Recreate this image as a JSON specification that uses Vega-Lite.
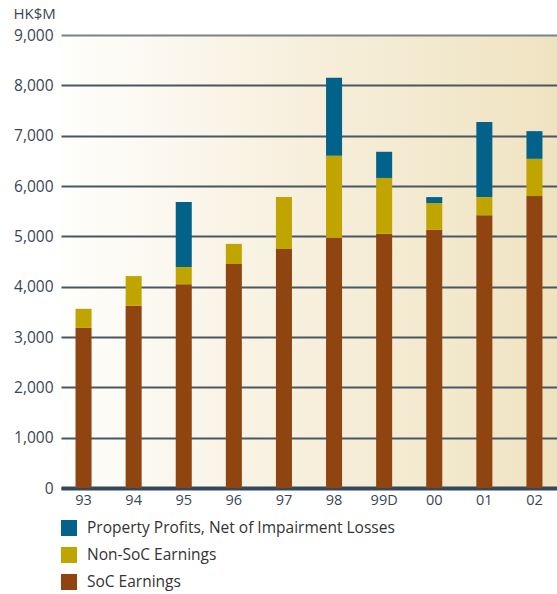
{
  "$schema": "https://vega.github.io/schema/vega-lite/v6.json",
  "width": 496,
  "height": 453,
  "autosize": {"type": "none"},
  "padding": {"left": 61, "top": 35, "right": 0, "bottom": 106},
  "background": "white",
  "view": {
    "stroke": null,
    "fill": {
      "gradient": "linear",
      "x1": 0, "y1": 0, "x2": 1, "y2": 0,
      "stops": [
        {"offset": 0, "color": "#fefefc"},
        {"offset": 0.5, "color": "#f7efdc"},
        {"offset": 1, "color": "#efe3c1"}
      ]
    }
  },
  "config": {
    "font": "Open Sans",
    "axis": {"labelFont": "Open Sans", "titleFont": "Open Sans"},
    "legend": {"labelFont": "Open Sans"}
  },
  "data": {
    "values": [
      {"year": "93", "category": "SoC Earnings", "value": 3180},
      {"year": "93", "category": "Non-SoC Earnings", "value": 380},
      {"year": "94", "category": "SoC Earnings", "value": 3620},
      {"year": "94", "category": "Non-SoC Earnings", "value": 590},
      {"year": "95", "category": "SoC Earnings", "value": 4050},
      {"year": "95", "category": "Non-SoC Earnings", "value": 340},
      {"year": "95", "category": "Property Profits, Net of Impairment Losses", "value": 1290},
      {"year": "96", "category": "SoC Earnings", "value": 4450},
      {"year": "96", "category": "Non-SoC Earnings", "value": 400},
      {"year": "97", "category": "SoC Earnings", "value": 4750},
      {"year": "97", "category": "Non-SoC Earnings", "value": 1030},
      {"year": "98", "category": "SoC Earnings", "value": 4970},
      {"year": "98", "category": "Non-SoC Earnings", "value": 1630},
      {"year": "98", "category": "Property Profits, Net of Impairment Losses", "value": 1550},
      {"year": "99D", "category": "SoC Earnings", "value": 5050},
      {"year": "99D", "category": "Non-SoC Earnings", "value": 1110},
      {"year": "99D", "category": "Property Profits, Net of Impairment Losses", "value": 520},
      {"year": "00", "category": "SoC Earnings", "value": 5130},
      {"year": "00", "category": "Non-SoC Earnings", "value": 530},
      {"year": "00", "category": "Property Profits, Net of Impairment Losses", "value": 120},
      {"year": "01", "category": "SoC Earnings", "value": 5420},
      {"year": "01", "category": "Non-SoC Earnings", "value": 360},
      {"year": "01", "category": "Property Profits, Net of Impairment Losses", "value": 1490},
      {"year": "02", "category": "SoC Earnings", "value": 5800},
      {"year": "02", "category": "Non-SoC Earnings", "value": 740},
      {"year": "02", "category": "Property Profits, Net of Impairment Losses", "value": 550}
    ]
  },
  "transform": [
    {"window": [{"op": "row_number", "as": "stackRank"}], "groupby": ["year"]}
  ],
  "mark": {"type": "bar"},
  "encoding": {
    "x": {
      "field": "year",
      "type": "nominal",
      "sort": null,
      "scale": {"paddingInner": 0.68, "paddingOuter": 0.29, "align": 0.5},
      "axis": {
        "title": null,
        "labelAngle": 0,
        "labelFontSize": 14.5,
        "labelColor": "#3a4656",
        "labelPadding": 5,
        "ticks": false,
        "tickSize": 0,
        "domainColor": "#34485c",
        "domainWidth": 4
      }
    },
    "y": {
      "field": "value",
      "type": "quantitative",
      "stack": "zero",
      "scale": {"domain": [0, 9000], "nice": false},
      "axis": {
        "title": "HK$M",
        "titleAngle": 0,
        "titleAlign": "left",
        "titleBaseline": "alphabetic",
        "titleX": -48,
        "titleY": -17,
        "titleFontSize": 15,
        "titleFontWeight": "normal",
        "titleColor": "#3a4656",
        "values": [0, 1000, 2000, 3000, 4000, 5000, 6000, 7000, 8000, 9000],
        "format": ",.0f",
        "labelFontSize": 15.5,
        "labelColor": "#3a4656",
        "labelPadding": 8,
        "ticks": false,
        "tickSize": 0,
        "domain": false,
        "grid": true,
        "gridColor": {"condition": {"test": "datum.value === 9000", "value": "#77838b"}, "value": "#4a5661"},
        "gridWidth": 2,
        "gridOpacity": 1
      }
    },
    "order": {"field": "stackRank", "type": "quantitative", "sort": "ascending"},
    "color": {
      "field": "category",
      "type": "nominal",
      "scale": {
        "domain": ["Property Profits, Net of Impairment Losses", "Non-SoC Earnings", "SoC Earnings"],
        "range": ["#03628a", "#c0a500", "#904510"]
      },
      "legend": {
        "title": null,
        "orient": "none",
        "legendX": 0,
        "legendY": 485,
        "symbolType": "square",
        "symbolSize": 256,
        "symbolStrokeWidth": 0,
        "symbolOpacity": 1,
        "labelFontSize": 15.5,
        "labelColor": "#333333",
        "labelOffset": 10,
        "rowPadding": 10,
        "labelLimit": 500
      }
    }
  }
}
